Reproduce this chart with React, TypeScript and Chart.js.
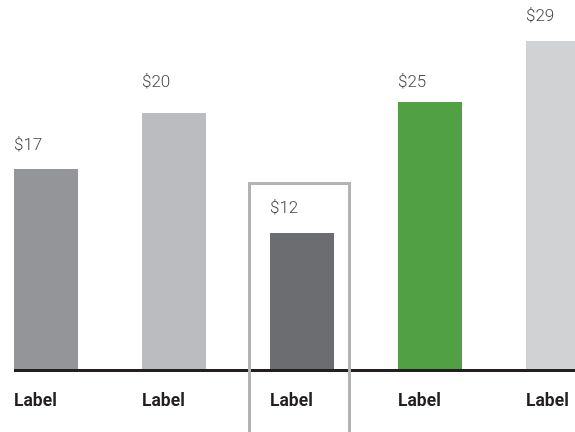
import React, { useEffect, useRef } from "react";
import { Chart, registerables } from "chart.js";

Chart.register(...registerables);

const categories = ["Label", "Label", "Label", "Label", "Label"];
const valueLabels = ["$17", "$20", "$12", "$25", "$29"];
const values = [17.38, 22.23, 11.85, 23.18, 28.45];
const colors = ["#949598", "#bbbcbf", "#6c6d70", "#52a044", "#d1d2d4"];
const labelGaps = [19, 26, 20, 15, 20];
const highlightIndex = 2;

const overlay = {
  id: "overlay",
  afterDatasetsDraw(chart: any) {
    const ctx = chart.ctx;
    const meta = chart.getDatasetMeta(0);
    const area = chart.chartArea;
    ctx.save();
    // baseline
    const first = meta.data[0];
    const x0 = first.x - first.width / 2;
    ctx.fillStyle = "#231f20";
    ctx.fillRect(x0, area.bottom - 1, chart.width - x0, 3);
    // labels
    meta.data.forEach((bar: any, i: number) => {
      const left = bar.x - bar.width / 2;
      ctx.textAlign = "left";
      ctx.textBaseline = "alphabetic";
      ctx.fillStyle = "#4a4a4a";
      ctx.font = "300 17px Roboto";
      ctx.fillText(valueLabels[i], left, bar.y - labelGaps[i]);
      ctx.fillStyle = "#231f20";
      ctx.font = "bold 17.5px Roboto";
      ctx.fillText(categories[i], left, area.bottom + 36);
    });
    // highlight box
    const hb = meta.data[highlightIndex];
    const hl = hb.x - hb.width / 2 - 20.5;
    const hr = hb.x + hb.width / 2 + 15.5;
    const top = 183.5;
    ctx.strokeStyle = "#b3b3b3";
    ctx.lineWidth = 3;
    ctx.beginPath();
    ctx.moveTo(hl, chart.height + 5);
    ctx.lineTo(hl, top);
    ctx.lineTo(hr, top);
    ctx.lineTo(hr, chart.height + 5);
    ctx.stroke();
    ctx.restore();
  },
};

export default function App() {
  const ref = useRef<HTMLCanvasElement>(null);
  useEffect(() => {
    if (!ref.current) return;
    const chart = new Chart(ref.current, {
      type: "bar",
      data: {
        labels: categories,
        datasets: [
          {
            data: values,
            backgroundColor: colors,
            borderWidth: 0,
            barPercentage: 0.5,
            categoryPercentage: 1,
          },
        ],
      },
      options: {
        responsive: false,
        animation: false,
        layout: { padding: { top: 0, bottom: 62, left: 0, right: 0 } },
        plugins: { legend: { display: false }, tooltip: { enabled: false } },
        scales: {
          x: { display: false, offset: true },
          y: { display: false, min: 0, max: 32 },
        },
      },
      plugins: [overlay],
    });
    return () => chart.destroy();
  }, []);
  return (
    <div
      style={{
        position: "fixed",
        left: 0,
        top: 0,
        width: 575,
        height: 432,
        overflow: "hidden",
        background: "#fff",
      }}
    >
      <canvas
        ref={ref}
        width={640}
        height={432}
        style={{ position: "absolute", left: -18, top: 0, width: 640, height: 432 }}
      />
    </div>
  );
}
